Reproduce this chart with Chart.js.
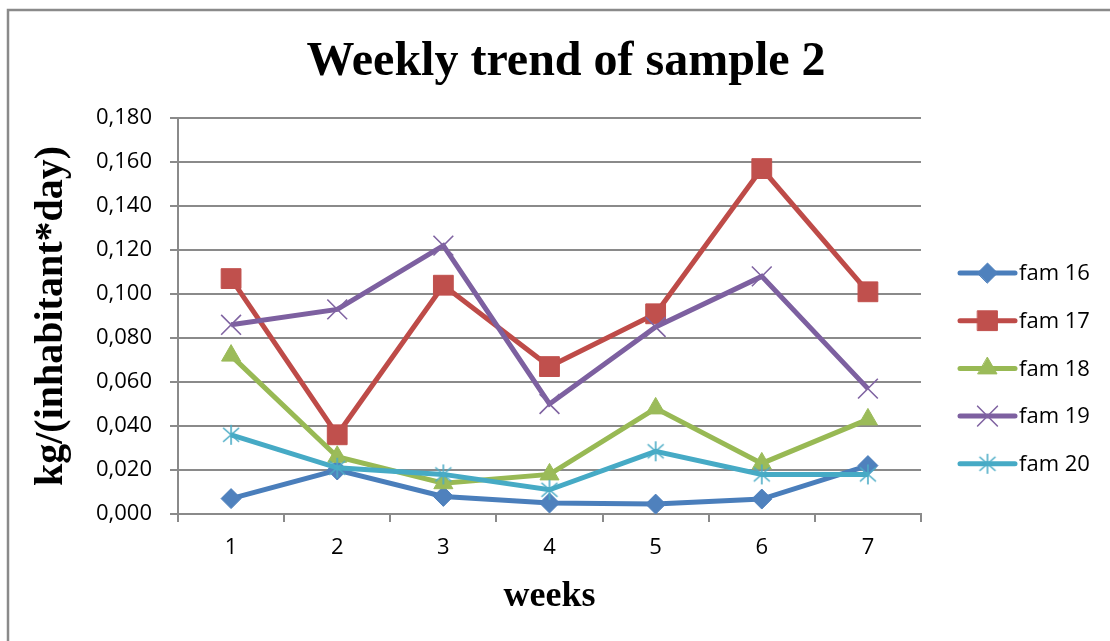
<!DOCTYPE html>
<html>
<head>
<meta charset="utf-8">
<title>Weekly trend of sample 2</title>
<script src="https://cdn.jsdelivr.net/npm/chart.js@4/dist/chart.umd.min.js"></script>
<style>
  html, body { margin: 0; padding: 0; background: #fff; }
  #wrap { width: 1110px; height: 641px; position: relative; }
</style>
</head>
<body>
<div id="wrap"><canvas id="chart" width="1110" height="641"></canvas></div>
<script>
// weeks on the x axis
var weeks = ['1', '2', '3', '4', '5', '6', '7'];

// kg/(inhabitant*day) per family
var fam16 = [0.007, 0.020, 0.008, 0.005, 0.0045, 0.0068, 0.022];
var fam17 = [0.107, 0.036, 0.104, 0.067, 0.091, 0.157, 0.101];
var fam18 = [0.072, 0.026, 0.014, 0.018, 0.048, 0.023, 0.043];
var fam19 = [0.086, 0.093, 0.122, 0.050, 0.085, 0.108, 0.057];
var fam20 = [0.036, 0.021, 0.018, 0.011, 0.0285, 0.018, 0.018];

var seriesNames = ['fam 16', 'fam 17', 'fam 18', 'fam 19', 'fam 20'];

var yTicksMax = 0.18;
var yTicksStep = 0.02;

// asterisk marker (vertical bar + X), like the office one
function asteriskMarker(color) {
    var c = document.createElement('canvas');
    c.width = 22; c.height = 22;
    var g = c.getContext('2d');
    g.strokeStyle = color;
    g.lineWidth = 1.6;
    g.beginPath();
    g.moveTo(11, 1); g.lineTo(11, 21);
    g.moveTo(3, 4); g.lineTo(19, 18);
    g.moveTo(19, 4); g.lineTo(3, 18);
    g.stroke();
    return c;
}

function series(label, data, line, fill, style, radius, order) {
    return {
        label: label,
        data: data,
        borderColor: line,
        backgroundColor: fill,
        borderWidth: 5,
        tension: 0,
        pointStyle: style,
        pointRadius: radius,
        pointHoverRadius: radius,
        pointBackgroundColor: fill,
        pointBorderColor: fill,
        pointBorderWidth: 1,
        order: order
    };
}

var datasets = [
    series(seriesNames[0], fam16, '#4A7EBB', '#4F81BD', 'rectRot', 10, 4),
    series(seriesNames[1], fam17, '#BE4B48', '#C0504D', 'rect', 14, 3),
    series(seriesNames[2], fam18, '#98B954', '#9BBB59', 'triangle', 11, 2),
    series(seriesNames[3], fam19, '#7D60A0', '#8064A2', 'crossRot', 14, 1),
    series(seriesNames[4], fam20, '#46AAC5', '#4BACC6', asteriskMarker('#4BACC6'), 11, 0)
];
datasets[3].pointBorderWidth = 1.6;

// frame, title and legend drawn straight on the canvas
var decorations = {
    id: 'decorations',
    beforeDraw: function(chart) {
        var ctx = chart.ctx;
        ctx.save();
        ctx.fillStyle = '#fff';
        ctx.fillRect(0, 0, chart.width, chart.height);
        ctx.strokeStyle = '#8a8a8a';
        ctx.lineWidth = 2.5;
        ctx.strokeRect(8, 10, chart.width + 10, chart.height + 10);
        ctx.restore();
    },
    afterDraw: function(chart) {
        var ctx = chart.ctx;
        ctx.save();
        ctx.fillStyle = '#000';
        ctx.font = 'bold 48px "Liberation Serif", "Times New Roman", serif';
        ctx.textAlign = 'center';
        ctx.textBaseline = 'alphabetic';
        ctx.fillText('Weekly trend of sample 2', 566, 75);

        var top = 273, gap = 47.7, x0 = 960, x1 = 1015;
        chart.data.datasets.forEach(function(ds, i) {
            var y = top + i * gap;
            ctx.strokeStyle = ds.borderColor;
            ctx.lineWidth = 5;
            ctx.lineCap = 'round';
            ctx.beginPath();
            ctx.moveTo(x0, y);
            ctx.lineTo(x1, y);
            ctx.stroke();
            ctx.fillStyle = ds.pointBackgroundColor;
            ctx.strokeStyle = ds.pointBorderColor;
            ctx.lineWidth = ds.pointBorderWidth;
            Chart.helpers.drawPoint(ctx, {
                pointStyle: ds.pointStyle,
                radius: ds.pointRadius,
                rotation: 0,
                borderWidth: ds.pointBorderWidth
            }, (x0 + x1) / 2, y);
            ctx.fillStyle = '#000';
            ctx.font = '22px "Open Sans", sans-serif';
            ctx.textAlign = 'left';
            ctx.textBaseline = 'middle';
            ctx.fillText(ds.label, x1 + 4, y + 1);
        });
        ctx.restore();
    }
};

var ctx = document.getElementById('chart').getContext('2d');
new Chart(ctx, {
    type: 'line',
    data: { labels: weeks, datasets: datasets },
    plugins: [decorations],
    options: {
        responsive: false,
        animation: false,
        layout: { padding: { left: 0, top: 118, right: 189, bottom: 0 } },
        plugins: {
            legend: { display: false },
            title: { display: false },
            tooltip: { enabled: false }
        },
        scales: {
            x: {
                offset: true,
                grid: {
                    offset: true,
                    drawOnChartArea: false,
                    drawTicks: true,
                    tickLength: 8,
                    color: '#8a8a8a',
                    lineWidth: 2
                },
                border: { color: '#8a8a8a', width: 2 },
                ticks: {
                    color: '#000',
                    padding: 13,
                    maxRotation: 0,
                    font: { family: '"Open Sans", sans-serif', size: 22 }
                },
                title: {
                    display: true,
                    text: 'weeks',
                    color: '#000',
                    padding: { top: 0, bottom: 23 },
                    font: { family: '"Liberation Serif", "Times New Roman", serif', size: 36, weight: 'bold' }
                },
                afterFit: function(scale) { scale.height = 127; }
            },
            y: {
                min: 0,
                max: yTicksMax,
                grid: {
                    color: '#8a8a8a',
                    lineWidth: 2,
                    tickLength: 8
                },
                border: { color: '#8a8a8a', width: 2 },
                ticks: {
                    stepSize: yTicksStep,
                    color: '#000',
                    padding: 18,
                    font: { family: '"Open Sans", sans-serif', size: 22 },
                    callback: function(v) { return v.toFixed(3).replace('.', ','); }
                },
                title: {
                    display: true,
                    text: 'kg/(inhabitant*day)',
                    color: '#000',
                    padding: { top: 28, bottom: 0 },
                    font: { family: '"Liberation Serif", "Times New Roman", serif', size: 40, weight: 'bold' }
                },
                afterFit: function(scale) { scale.width = 178; }
            }
        }
    }
});
</script>
</body>
</html>
